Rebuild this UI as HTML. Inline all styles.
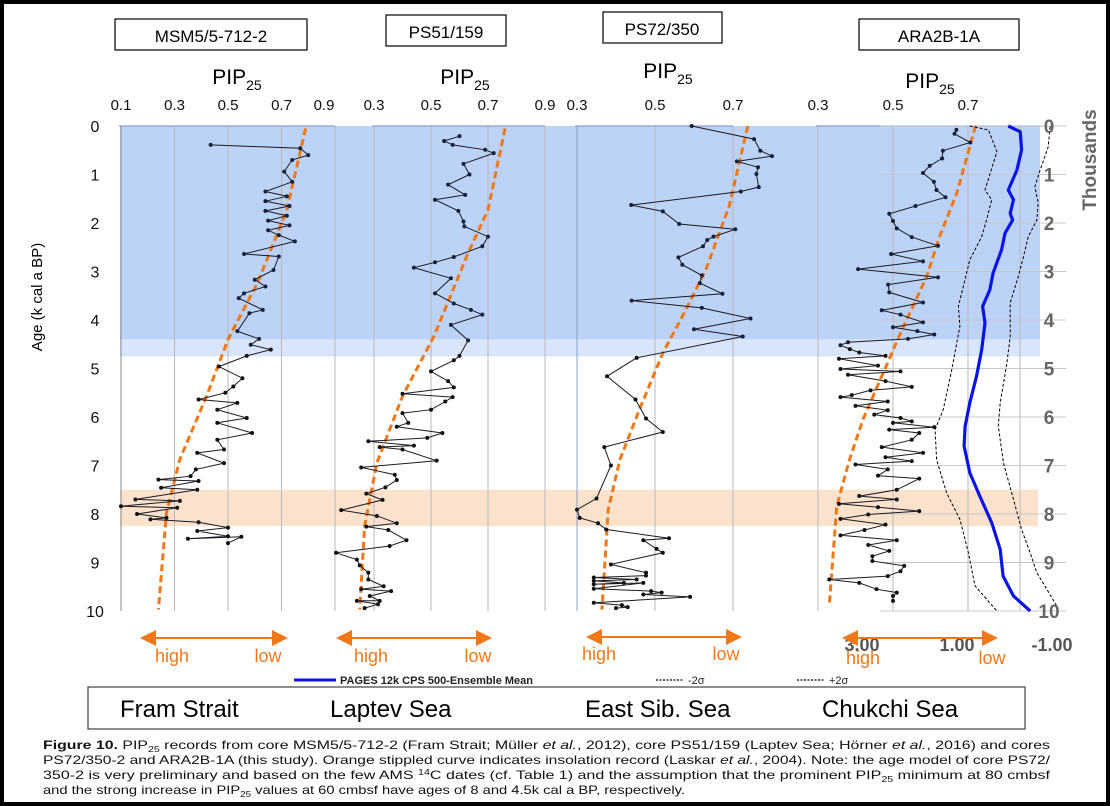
<!DOCTYPE html>
<html><head><meta charset="utf-8">
<style>
html,body{margin:0;padding:0;background:#fff}
#wrap{position:relative;width:1110px;height:806px;overflow:hidden;background:#fff;font-family:"Liberation Sans",sans-serif}
svg text{font-family:"Liberation Sans",sans-serif}
</style></head>
<body>
<div id="wrap">
<svg id="chart" width="1110" height="806" viewBox="0 0 1110 806">
  <rect x="0" y="0" width="1110" height="806" fill="#fff"/>
  <g id="bands"></g>
  <g id="grid"></g>
  <g id="series"></g>
  <g id="labels"></g>
  <rect x="0" y="0" width="1110" height="806" fill="none" stroke="#000" stroke-width="8"/>
</svg>
</div>
<script>
// ---------------- DATA ----------------
const ageTicks = [0,1,2,3,4,5,6,7,8,9,10];
const warmBand = [0, 4.4];
const warmBandFade = [4.4, 4.75];
const coldBand = [7.5, 8.25];

const framAge = [0.39,0.46,0.6,0.7,0.94,1.15,1.35,1.45,1.55,1.65,1.75,1.85,1.95,2.05,2.15,2.25,2.38,2.64,2.69,2.97,3.17,3.31,3.45,3.55,3.79,3.86,4.23,4.39,4.51,4.61,4.74,4.96,5.2,5.37,5.5,5.64,5.71,5.85,6.02,6.12,6.33,6.47,6.67,6.74,6.95,7.08,7.22,7.29,7.32,7.46,7.5,7.7,7.73,7.84,7.87,8.0,8.08,8.11,8.17,8.28,8.35,8.46,8.51,8.47,8.6];
const framPip = [0.435,0.77,0.80,0.74,0.71,0.74,0.64,0.72,0.64,0.73,0.64,0.72,0.65,0.73,0.65,0.69,0.75,0.56,0.69,0.67,0.60,0.64,0.56,0.54,0.63,0.58,0.535,0.616,0.585,0.66,0.57,0.466,0.554,0.52,0.49,0.39,0.535,0.46,0.57,0.46,0.59,0.46,0.485,0.385,0.485,0.38,0.36,0.24,0.39,0.25,0.385,0.154,0.32,0.1,0.31,0.16,0.27,0.21,0.39,0.5,0.385,0.5,0.35,0.55,0.5];
const framInsAge = [0.05,1.73,3.24,4.4,5.57,6.87,7.97,9.97];
const framIns = [0.79,0.72,0.61,0.5,0.42,0.32,0.27,0.24];

const laptevAge = [0.21,0.31,0.39,0.49,0.56,0.78,1.0,1.21,1.42,1.52,1.75,1.97,2.07,2.28,2.48,2.7,2.81,2.92,3.14,3.45,3.66,3.79,3.89,4.1,4.42,4.74,4.83,5.06,5.26,5.39,5.52,5.59,5.68,5.85,5.92,6.12,6.2,6.33,6.43,6.5,6.59,6.62,6.67,6.9,7.04,7.19,7.3,7.45,7.58,7.71,7.92,8.04,8.19,8.26,8.33,8.54,8.66,8.8,8.94,9.06,9.21,9.35,9.49,9.55,9.59,9.69,9.79,9.79,9.86,9.94];
const laptevPip = [0.60,0.546,0.576,0.69,0.72,0.614,0.635,0.56,0.62,0.514,0.596,0.614,0.617,0.70,0.68,0.58,0.514,0.44,0.57,0.514,0.58,0.64,0.68,0.57,0.63,0.60,0.58,0.50,0.56,0.58,0.40,0.576,0.55,0.50,0.40,0.42,0.38,0.54,0.487,0.28,0.44,0.32,0.40,0.52,0.255,0.373,0.38,0.34,0.273,0.33,0.185,0.31,0.38,0.273,0.35,0.414,0.355,0.167,0.24,0.25,0.28,0.28,0.334,0.255,0.36,0.285,0.32,0.24,0.314,0.267];
const laptevInsAge = [0.05,1.73,2.62,4.34,5.57,6.95,8.25,9.97];
const laptevIns = [0.76,0.70,0.63,0.51,0.40,0.31,0.267,0.25];

const esibAge = [0,0.27,0.51,0.62,0.73,0.85,0.99,1.26,1.35,1.63,1.76,2.02,2.13,2.28,2.35,2.48,2.71,2.86,3.08,3.24,3.46,3.6,3.75,3.97,4.19,4.34,4.78,5.16,5.64,6.03,6.31,6.62,7.0,7.68,7.91,8.08,8.19,8.32,8.5,8.54,8.72,8.8,9.04,9.21,9.27,9.31,9.35,9.38,9.42,9.45,9.42,9.54,9.59,9.62,9.66,9.71,9.83,9.88,9.92,9.94];
const esibPip = [0.594,0.754,0.77,0.80,0.71,0.764,0.76,0.766,0.72,0.439,0.52,0.562,0.706,0.65,0.634,0.623,0.56,0.57,0.62,0.615,0.673,0.44,0.62,0.745,0.60,0.725,0.453,0.377,0.45,0.477,0.52,0.37,0.387,0.35,0.30,0.307,0.354,0.375,0.536,0.47,0.504,0.52,0.387,0.477,0.477,0.343,0.453,0.343,0.42,0.343,0.47,0.343,0.49,0.517,0.47,0.59,0.343,0.415,0.43,0.40];
const esibInsAge = [0,1.66,2.97,3.93,4.68,5.85,6.88,7.91,9.97];
const esibIns = [0.738,0.69,0.63,0.57,0.52,0.46,0.41,0.38,0.364];

const chukAge = [0.08,0.16,0.34,0.51,0.67,0.82,0.97,1.15,1.32,1.47,1.65,1.81,1.96,2.11,2.29,2.47,2.64,2.79,2.95,3.12,3.27,3.43,3.64,3.8,3.89,4.05,4.15,4.23,4.3,4.39,4.46,4.52,4.6,4.67,4.74,4.8,4.94,5.01,5.06,5.13,5.26,5.38,5.45,5.55,5.59,5.68,5.77,5.86,5.95,6.02,6.09,6.12,6.21,6.26,6.33,6.47,6.62,6.74,6.83,6.91,6.98,7.08,7.21,7.27,7.5,7.63,7.7,7.79,7.86,7.94,8.01,8.1,8.22,8.33,8.44,8.54,8.64,8.76,8.87,8.97,9.07,9.18,9.28,9.35,9.42,9.55,9.62,9.69,9.79];
const chukPip = [0.669,0.664,0.706,0.633,0.631,0.598,0.58,0.609,0.616,0.64,0.56,0.49,0.50,0.51,0.55,0.62,0.495,0.58,0.407,0.62,0.487,0.49,0.58,0.47,0.52,0.58,0.50,0.565,0.61,0.54,0.38,0.36,0.385,0.41,0.48,0.356,0.46,0.36,0.52,0.38,0.48,0.55,0.44,0.39,0.36,0.486,0.40,0.486,0.45,0.52,0.55,0.50,0.61,0.49,0.57,0.55,0.47,0.58,0.48,0.55,0.40,0.486,0.46,0.57,0.51,0.41,0.51,0.356,0.46,0.57,0.434,0.36,0.48,0.424,0.36,0.51,0.434,0.49,0.445,0.445,0.53,0.52,0.486,0.33,0.41,0.456,0.51,0.50,0.50];
const chukInsAge = [0,1.39,2.28,3.1,4.27,5.16,6.05,6.88,7.84,9.9];
const chukIns = [0.72,0.67,0.624,0.59,0.52,0.47,0.42,0.384,0.35,0.33];

const pagesAge = [0,0.12,0.49,0.91,1.32,1.52,1.8,1.94,2.21,2.55,3.03,3.38,3.72,4.06,4.61,5.16,5.71,6.19,6.6,7.15,7.63,8.18,8.73,9.28,9.69,10];
const pagesMean = [-0.08,-0.33,-0.36,-0.26,-0.08,-0.19,-0.12,-0.17,-0.01,0.06,0.24,0.31,0.46,0.41,0.48,0.59,0.73,0.83,0.85,0.73,0.52,0.27,0.09,0.03,-0.19,-0.54];
const lowAge = [0,0.08,0.53,1.32,1.52,1.94,2.28,2.76,3.72,4.13,5.02,5.85,6.26,6.88,7.56,8.11,8.8,9.48,10];
const lowSigma = [0.73,0.34,0.16,0.41,0.27,0.38,0.48,0.73,0.97,0.94,1.11,1.29,1.46,1.43,1.22,0.94,0.76,0.62,0.16];
const highAge = [0.01,0.43,0.91,1.25,1.59,1.94,2.28,2.69,3.1,3.65,4.34,4.89,5.71,6.19,6.95,7.7,8.32,8.8,9.21,9.55,9.9];
const highSigma = [-0.96,-0.92,-0.75,-0.64,-0.71,-0.68,-0.5,-0.4,-0.29,-0.12,-0.12,-0.05,0.09,0.13,0.02,-0.19,-0.36,-0.54,-0.68,-0.89,-1.1];

const panelNames = ["fram-strait","laptev-sea","east-sib-sea","chukchi-sea"];
const panelTicks = [[0.1,0.3,0.5,0.7,0.9],[0.3,0.5,0.7,0.9],[0.3,0.5,0.7],[0.3,0.5,0.7,0.9]];
const secTicks = [3,1,-1];
const secTickLabels = ["3.00","1.00","-1.00"];

// ---------------- SCALES ----------------
const NS="http://www.w3.org/2000/svg";
const Y0=126, Y1=611;
function yAge(a){return Y0+(a/10)*(Y1-Y0);}
const panelScale=[
  {px:121,v0:0.1,k:267.5},
  {px:431,v0:0.5,k:285},
  {px:577,v0:0.3,k:390},
  {px:893,v0:0.5,k:375}
];
function xP(i,v){const s=panelScale[i];return s.px+(v-s.v0)*s.k;}
function xSec(v){return 957-(v-1)*47.5;}

function el(tag,attrs,parent){const e=document.createElementNS(NS,tag);for(const k in attrs)e.setAttribute(k,attrs[k]);parent.appendChild(e);return e;}
const bands=document.getElementById('bands');
const grid=document.getElementById('grid');
const series=document.getElementById('series');
const labels=document.getElementById('labels');

let b=el('rect',{x:120,y:yAge(warmBand[0]),width:920,height:yAge(warmBand[1])-yAge(warmBand[0]),fill:'#bcd2f7'},bands);


b=el('rect',{x:120,y:yAge(warmBandFade[0]),width:920,height:yAge(warmBandFade[1])-yAge(warmBandFade[0]),fill:'#d9e5fb'},bands);


b=el('rect',{x:120,y:yAge(coldBand[0]),width:918,height:yAge(coldBand[1])-yAge(coldBand[0]),fill:'#fbe2cc'},bands);



panelTicks.forEach((ticks,i)=>{
  ticks.forEach(t=>{
    const x=xP(i,t);
    if(i===3 && t===0.9) return;
    const g=el('line',{x1:x,y1:Y0,x2:x,y2:Y1,stroke:'#b8b8b8','stroke-width':1},grid);
    
    
    let lx=x;
    if(i===0 && t===0.9) lx=324;
    const tl=el('text',{x:lx,y:110,'font-size':15,'text-anchor':'middle',fill:'#111'},labels);
    tl.textContent=t.toFixed(1);
    
    
  });
  const a=el('line',{x1:xP(i,ticks[0])-2,y1:Y0,x2:xP(i,ticks[ticks.length-1]),y2:Y0,stroke:'#8aa0c8','stroke-width':1.2},grid);
  
  
});
let gx=el('line',{x1:1020,y1:Y0,x2:1020,y2:Y1,stroke:'#b8b8b8','stroke-width':1},grid);


let la=el('line',{x1:121,y1:Y0,x2:121,y2:Y1,stroke:'#888','stroke-width':1},grid);


ageTicks.forEach(t=>{
  const y=yAge(t);
  const h=el('line',{x1:880,y1:y,x2:1066,y2:y,stroke:'#c8c8c8','stroke-width':1},grid);
  
  
  const yl=el('text',{x:95,y:y+6,'font-size':16,'text-anchor':'middle',fill:'#111'},labels);
  yl.textContent=t;
  
  
  const yr=el('text',{x:1049,y:y+7,'font-size':19,'font-weight':'bold','text-anchor':'middle',fill:'#666'},labels);
  yr.textContent=t;
  
  
});
let l3=el('line',{x1:577,y1:Y0,x2:577,y2:Y1,stroke:'#8aa0c8','stroke-width':1},grid);



function drawLine(i,ages,vals,name){
  const pts=ages.map((a,k)=>xP(i,vals[k]).toFixed(1)+','+yAge(a).toFixed(1)).join(' ');
  const p=el('polyline',{points:pts,fill:'none',stroke:'#1b1b22','stroke-width':1},series);
  
  
  ages.forEach((a,k)=>{
    const c=el('circle',{cx:xP(i,vals[k]),cy:yAge(a),r:2,fill:a<4.6?'#14213d':'#111'},series);
    
    
  });
}
function drawIns(i,ages,vals,name){
  const pts=ages.map((a,k)=>[xP(i,vals[k]),yAge(a)]);
  const pl=el('polyline',{points:pts.map(p=>p.join(',')).join(' '),fill:'none',stroke:'#f07818','stroke-width':3,'stroke-dasharray':'7,4'},series);
  
  
}
drawIns(0,framInsAge,framIns,'fram');
drawLine(0,framAge,framPip,'fram-pip25');
drawIns(1,laptevInsAge,laptevIns,'laptev');
drawLine(1,laptevAge,laptevPip,'laptev-pip25');
drawIns(2,esibInsAge,esibIns,'esib');
drawLine(2,esibAge,esibPip,'esib-pip25');
drawIns(3,chukInsAge,chukIns,'chukchi');
drawLine(3,chukAge,chukPip,'chukchi-pip25');

function secLine(ages,vals,attrs,name){
  const pts=ages.map((a,k)=>xSec(vals[k]).toFixed(1)+','+yAge(a).toFixed(1)).join(' ');
  const p=el('polyline',Object.assign({points:pts,fill:'none'},attrs),series);
  
  
}
secLine(lowAge,lowSigma,{stroke:'#000','stroke-width':1,'stroke-dasharray':'3,2'},'pages-minus-2sigma');
secLine(highAge,highSigma,{stroke:'#000','stroke-width':1,'stroke-dasharray':'3,2'},'pages-plus-2sigma');
secLine(pagesAge,pagesMean,{stroke:'#0a14e6','stroke-width':3.2},'pages-12k-mean');

secTicks.forEach((t,k)=>{
  const s=el('text',{x:xSec(t),y:651,'font-size':18,'font-weight':'bold','text-anchor':'middle',fill:'#555'},labels);
  s.textContent=secTickLabels[k];
  
  
});
</script>
<div style="position:absolute;left:0;top:0;width:1110px;height:806px;pointer-events:none">
  <svg width="1110" height="806" style="position:absolute;left:0;top:0">
    <defs><marker id="ah" markerWidth="8" markerHeight="8" refX="4" refY="4" orient="auto-start-reverse"><path d="M0,0 L8,4 L0,8 z" fill="#f07818"/></marker></defs>
    <g><rect x="115" y="19" width="192" height="31" fill="#fff" stroke="#000" stroke-width="1.2"/><text x="211" y="42" font-size="17" text-anchor="middle">MSM5/5-712-2</text></g>
    <g><rect x="386" y="15" width="120" height="31" fill="#fff" stroke="#000" stroke-width="1.2"/><text x="446" y="38" font-size="17" text-anchor="middle">PS51/159</text></g>
    <g><rect x="603" y="12" width="119" height="31" fill="#fff" stroke="#000" stroke-width="1.2"/><text x="662" y="35" font-size="17" text-anchor="middle">PS72/350</text></g>
    <g><rect x="859" y="19" width="160" height="31" fill="#fff" stroke="#000" stroke-width="1.2"/><text x="939" y="42" font-size="17" text-anchor="middle">ARA2B-1A</text></g>
    <text x="237" y="84" font-size="21" text-anchor="middle">PIP<tspan font-size="14" dy="6">25</tspan></text>
    <text x="465" y="84" font-size="21" text-anchor="middle">PIP<tspan font-size="14" dy="6">25</tspan></text>
    <text x="668" y="78" font-size="21" text-anchor="middle">PIP<tspan font-size="14" dy="6">25</tspan></text>
    <text x="930" y="88" font-size="21" text-anchor="middle">PIP<tspan font-size="14" dy="6">25</tspan></text>
    <text transform="translate(42,297) rotate(-90)" font-size="15" text-anchor="middle">Age (k cal a BP)</text>
    <text transform="translate(1096,160) rotate(-90)" font-size="19" font-weight="bold" fill="#666" text-anchor="middle">Thousands</text>
    <g stroke="#f07818" stroke-width="2">
      <line x1="148" y1="638" x2="280" y2="638" marker-start="url(#ah)" marker-end="url(#ah)"/>
      <line x1="344" y1="638" x2="484" y2="638" marker-start="url(#ah)" marker-end="url(#ah)"/>
      <line x1="594" y1="637" x2="734" y2="637" marker-start="url(#ah)" marker-end="url(#ah)"/>
      <line x1="850" y1="638" x2="990" y2="638" marker-start="url(#ah)" marker-end="url(#ah)"/>
    </g>
    <g fill="#f07818" font-size="18" text-anchor="middle">
      <text x="172" y="662">high</text><text x="268" y="662">low</text>
      <text x="371" y="662">high</text><text x="478" y="662">low</text>
      <text x="599" y="660">high</text><text x="726" y="660">low</text>
      <text x="863" y="664">high</text><text x="992" y="664">low</text>
    </g>
    <g>
      <line x1="294" y1="680" x2="336" y2="680" stroke="#0a14e6" stroke-width="3"/>
      <text x="340" y="684" font-size="11" font-weight="bold" fill="#222">PAGES 12k CPS 500-Ensemble Mean</text>
      <line x1="656" y1="680" x2="684" y2="680" stroke="#000" stroke-width="1.2" stroke-dasharray="2,1.5"/>
      <text x="688" y="684" font-size="11" fill="#222">-2σ</text>
      <line x1="797" y1="680" x2="825" y2="680" stroke="#000" stroke-width="1.2" stroke-dasharray="2,1.5"/>
      <text x="829" y="684" font-size="11" fill="#222">+2σ</text>
    </g>
    <g>
      <rect x="88" y="687" width="937" height="42" fill="#fff" stroke="#444" stroke-width="1.2"/>
      <text x="120" y="717" font-size="24">Fram Strait</text>
      <text x="330" y="717" font-size="24">Laptev Sea</text>
      <text x="585" y="717" font-size="24">East Sib. Sea</text>
      <text x="822" y="717" font-size="24">Chukchi Sea</text>
    </g>
    <g font-size="12" fill="#111">
      <text x="43" y="749" textLength="1007" lengthAdjust="spacingAndGlyphs"><tspan font-weight="bold">Figure 10.</tspan>   PIP<tspan font-size="8" dy="3">25</tspan><tspan dy="-3"> records from core MSM5/5-712-2 (Fram Strait; Müller </tspan><tspan font-style="italic">et al.</tspan>, 2012), core PS51/159 (Laptev Sea; Hörner <tspan font-style="italic">et al.</tspan>, 2016) and cores</text>
      <text x="43" y="764" textLength="1007" lengthAdjust="spacingAndGlyphs">PS72/350-2 and ARA2B-1A (this study). Orange stippled curve indicates insolation record (Laskar <tspan font-style="italic">et al.</tspan>, 2004). Note: the age model of core PS72/</text>
      <text x="43" y="779" textLength="1007" lengthAdjust="spacingAndGlyphs">350-2 is very preliminary and based on the few AMS <tspan font-size="8" dy="-4">14</tspan><tspan dy="4">C dates (cf. Table 1) and the assumption that the prominent PIP</tspan><tspan font-size="8" dy="3">25</tspan><tspan dy="-3"> minimum at 80 cmbsf</tspan></text>
      <text x="43" y="794" textLength="642" lengthAdjust="spacingAndGlyphs">and the strong increase in PIP<tspan font-size="8" dy="3">25</tspan><tspan dy="-3"> values at 60 cmbsf have ages of 8 and 4.5k cal a BP, respectively.</tspan></text>
    </g>
  </svg>
</div>
</body></html>
